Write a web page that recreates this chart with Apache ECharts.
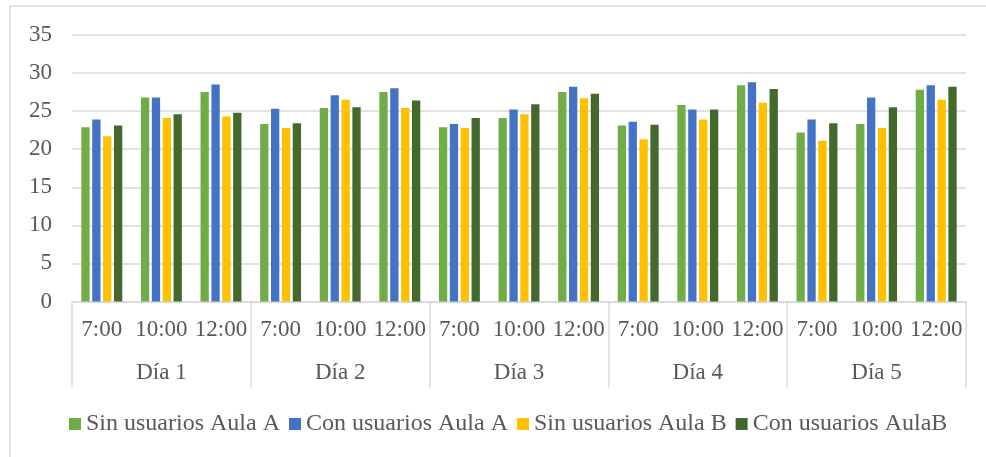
<!DOCTYPE html>
<html>
<head>
<meta charset="utf-8">
<script src="https://cdn.jsdelivr.net/npm/echarts@6/dist/echarts.min.js"></script>
<style>
html,body{margin:0;padding:0;background:#fff;}
#chart{width:986px;height:457px;}
</style>
</head>
<body>
<div id="chart"></div>
<script>
const days = ['Día 1', 'Día 2', 'Día 3', 'Día 4', 'Día 5'];
const hours = ['7:00', '10:00', '12:00'];
const yTicks = { min: 0, max: 35, interval: 5 };
const seriesNames = ['Sin usuarios Aula A', 'Con usuarios Aula A', 'Sin usuarios Aula B', 'Con usuarios AulaB'];
const sinA = [22.9, 26.8, 27.5, 23.3, 25.4, 27.5, 22.9, 24.1, 27.5, 23.1, 25.8, 28.4, 22.2, 23.3, 27.8];
const conA = [23.9, 26.8, 28.5, 25.3, 27.1, 28.0, 23.3, 25.2, 28.2, 23.6, 25.2, 28.8, 23.9, 26.8, 28.4];
const sinB = [21.7, 24.1, 24.3, 22.8, 26.5, 25.4, 22.8, 24.6, 26.7, 21.3, 23.9, 26.1, 21.1, 22.8, 26.5];
const conB = [23.1, 24.6, 24.8, 23.4, 25.5, 26.4, 24.1, 25.9, 27.3, 23.2, 25.2, 27.9, 23.4, 25.5, 28.2];

const colors = ['#70AD47', '#4472C4', '#FFC000', '#44692C'];
const font = 'Liberation Serif';
const textColor = '#595959';
const lineColor = '#D9D9D9';

const hourLabels = [];
days.forEach(function () { hours.forEach(function (h) { hourLabels.push(h); }); });

const chart = echarts.init(document.getElementById('chart'), null, { renderer: 'canvas' });
const values = [sinA, conA, sinB, conB];

chart.setOption({
  animation: false,
  color: colors,
  textStyle: { fontFamily: font },
  graphic: [{
    type: 'rect',
    shape: { x: 10, y: 6, width: 1000, height: 500 },
    style: { fill: 'none', stroke: lineColor, lineWidth: 1.5 },
    silent: true,
    z: -1
  }],
  grid: { left: 72, right: 20, top: 35, bottom: 155.5, containLabel: false },
  legend: {
    data: seriesNames,
    left: 69,
    top: 412,
    padding: 0,
    icon: 'rect',
    itemWidth: 12,
    itemHeight: 12,
    itemGap: 9,
    textStyle: { fontFamily: font, fontSize: 24, color: textColor }
  },
  xAxis: [{
    type: 'category',
    data: hourLabels,
    position: 'bottom',
    axisLine: { show: true, lineStyle: { color: lineColor, width: 1.5 } },
    axisTick: { show: false },
    axisLabel: { interval: 0, margin: 17, fontFamily: font, fontSize: 23, color: textColor },
    splitLine: { show: false }
  }, {
    type: 'category',
    data: days,
    position: 'bottom',
    axisLine: { show: false },
    axisTick: { show: true, interval: 0, length: 86, lineStyle: { color: lineColor, width: 1.5 } },
    axisLabel: { interval: 0, margin: 60, fontFamily: font, fontSize: 23, color: textColor },
    splitLine: { show: false }
  }],
  yAxis: {
    type: 'value',
    min: yTicks.min,
    max: yTicks.max,
    interval: yTicks.interval,
    axisLine: { show: false },
    axisTick: { show: false },
    axisLabel: { margin: 20, fontFamily: font, fontSize: 23, color: textColor },
    splitLine: { lineStyle: { color: lineColor, width: 1.5 } }
  },
  series: seriesNames.map(function (name, i) {
    return {
      name: name,
      type: 'bar',
      xAxisIndex: 0,
      data: values[i],
      barWidth: 8.3,
      barGap: '31%',
      itemStyle: { color: colors[i] }
    };
  })
});
</script>
</body>
</html>
